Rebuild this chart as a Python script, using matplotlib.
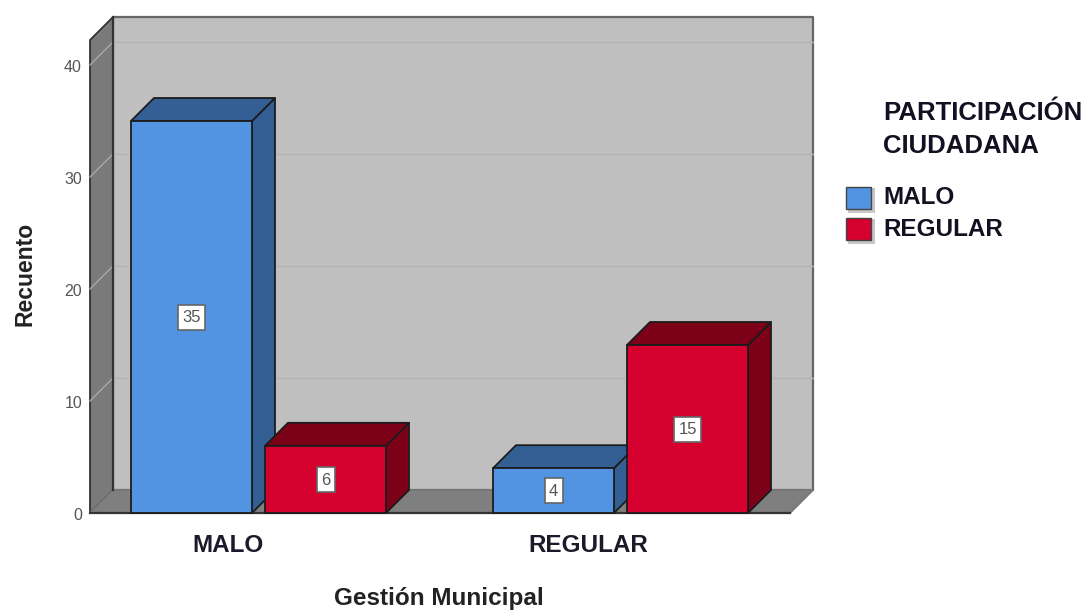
import matplotlib
matplotlib.use("Agg")
import matplotlib.pyplot as plt
from matplotlib.patches import Polygon, Rectangle

categories = ['MALO', 'REGULAR']
series_names = ['MALO', 'REGULAR']
malo_counts = [35, 4]
regular_counts = [6, 15]
y_ticks = [0, 10, 20, 30, 40]

W, H = 1084, 611
BLUE = ('#5294e2', '#345f95')
RED = ('#d5002e', '#7d0019')
EDGE = '#1c1c1c'

plt.rcParams['font.family'] = ['Liberation Sans', 'DejaVu Sans']

fig = plt.figure(figsize=(W / 100, H / 100), dpi=100)
# front plane of the box runs from x=90 to x=790, y=0 sits on pixel row 513
ax = fig.add_axes([90 / W, 1 - 513 / H, 700 / W, 473 / H])
px_x = 362.0  # pixels per category step
px_y = 11.2   # pixels per count
ax.set_xlim(-168.5 / px_x, 531.5 / px_x)
ax.set_ylim(0, 473 / px_y)
ax.axis('off')

dx = 23 / px_x  # depth of the oblique box
dy = 23 / px_y
x0, x1 = ax.get_xlim()
y0, y1 = ax.get_ylim()


def poly(points, color, edge=EDGE, lw=1.3, z=1):
    ax.add_patch(Polygon(points, closed=True, facecolor=color, edgecolor=edge,
                         linewidth=lw, zorder=z, clip_on=False, joinstyle='round'))


# box walls
poly([(x0 + dx, y0 + dy), (x1 + dx, y0 + dy), (x1 + dx, y1 + dy), (x0 + dx, y1 + dy)],
     '#bfbfbf', edge='#666666', lw=1.6, z=1)
poly([(x0, y0), (x0 + dx, y0 + dy), (x0 + dx, y1 + dy), (x0, y1)], '#7a7a7a', edge='#333333', z=2)
poly([(x0, y0), (x1, y0), (x1 + dx, y0 + dy), (x0 + dx, y0 + dy)], '#7f7f7f', edge='#777777', z=2)
ax.plot([x0, x1], [y0, y0], color='#333333', lw=1.6, zorder=3, clip_on=False)

# grid lines run across the left wall and the back wall
for t in y_ticks[1:]:
    ax.plot([x0, x0 + dx], [t, t + dy], color='#a8a8a8', lw=1.0, zorder=3, clip_on=False)
    ax.plot([x0 + dx, x1 + dx], [t + dy, t + dy], color='#b4b4b4', lw=1.0, zorder=3, clip_on=False)
ax.plot([x0 + dx, x0 + dx], [y0 + dy, y1 + dy], color='#333333', lw=1.6, zorder=3, clip_on=False)

for t in y_ticks:
    ax.text(x0 - 8 / px_x, t - 2 / px_y, str(t), ha='right', va='center', fontsize=11.5,
            color='#555555', clip_on=False)

bar_w = 121 / px_x
gap = 13 / px_x


def draw_bar(left, h, colors, z):
    right = left + bar_w
    poly([(left, 0), (right, 0), (right, h), (left, h)], colors[0], z=z + 0.2)
    poly([(right, 0), (right + dx, dy), (right + dx, h + dy), (right, h)], colors[1], z=z)
    poly([(left, h), (right, h), (right + dx, h + dy), (left + dx, h + dy)], colors[1], z=z + 0.1)
    # value tag, fixed height, width follows the number of digits
    tag_w = (9 + 9 * len(str(h))) / px_x
    tag_h = 25 / px_y
    xc = left + bar_w / 2
    ax.add_patch(Rectangle((xc - tag_w / 2, h / 2 - tag_h / 2), tag_w, tag_h, facecolor='white',
                           edgecolor='#666666', linewidth=1.2, zorder=z + 0.3))
    ax.text(xc, h / 2 - 1 / px_y, str(h), ha='center', va='center', fontsize=12,
            color='#555555', zorder=z + 0.4)


for i, cat in enumerate(categories):
    draw_bar(i - gap / 2 - bar_w, malo_counts[i], BLUE, 5 + i * 2)
    draw_bar(i + gap / 2, regular_counts[i], RED, 6 + i * 2)
    ax.text(i * 360 / px_x - 30.5 / px_x, -33 / px_y, cat, ha='center', va='center', fontsize=17.5,
            fontweight='bold', color='#1a1a2a', clip_on=False)

fig.text(439 / W, 1 - 599 / H, 'Gestión Municipal', ha='center', va='center',
         fontsize=17.5, fontweight='bold', color='#222222')
fig.text(25 / W, 1 - 274 / H, 'Recuento', ha='center', va='center', rotation=90,
         fontsize=16.5, fontweight='bold', color='#222222')

# legend
fig.text(883 / W, 1 - 113 / H, 'PARTICIPACIÓN', ha='left', va='center',
         fontsize=18.5, fontweight='bold', color='#111122')
fig.text(883 / W, 1 - 146 / H, 'CIUDADANA', ha='left', va='center',
         fontsize=18.5, fontweight='bold', color='#111122')
for name, colors, yc, ys in zip(series_names, (BLUE, RED), (197, 230), (198, 229)):
    fig.add_artist(Rectangle((848 / W, 1 - (ys + 15) / H), 27 / W, 25 / H, transform=fig.transFigure,
                             facecolor='#c8c8c8', edgecolor='none'))
    fig.add_artist(Rectangle((846 / W, 1 - (ys + 11) / H), 25 / W, 22 / H, transform=fig.transFigure,
                             facecolor=colors[0], edgecolor='#444444', linewidth=1))
    fig.text(883 / W, 1 - yc / H, name, ha='left', va='center', fontsize=17.5,
             fontweight='bold', color='#111122')

fig.savefig('out.png', dpi=100)
